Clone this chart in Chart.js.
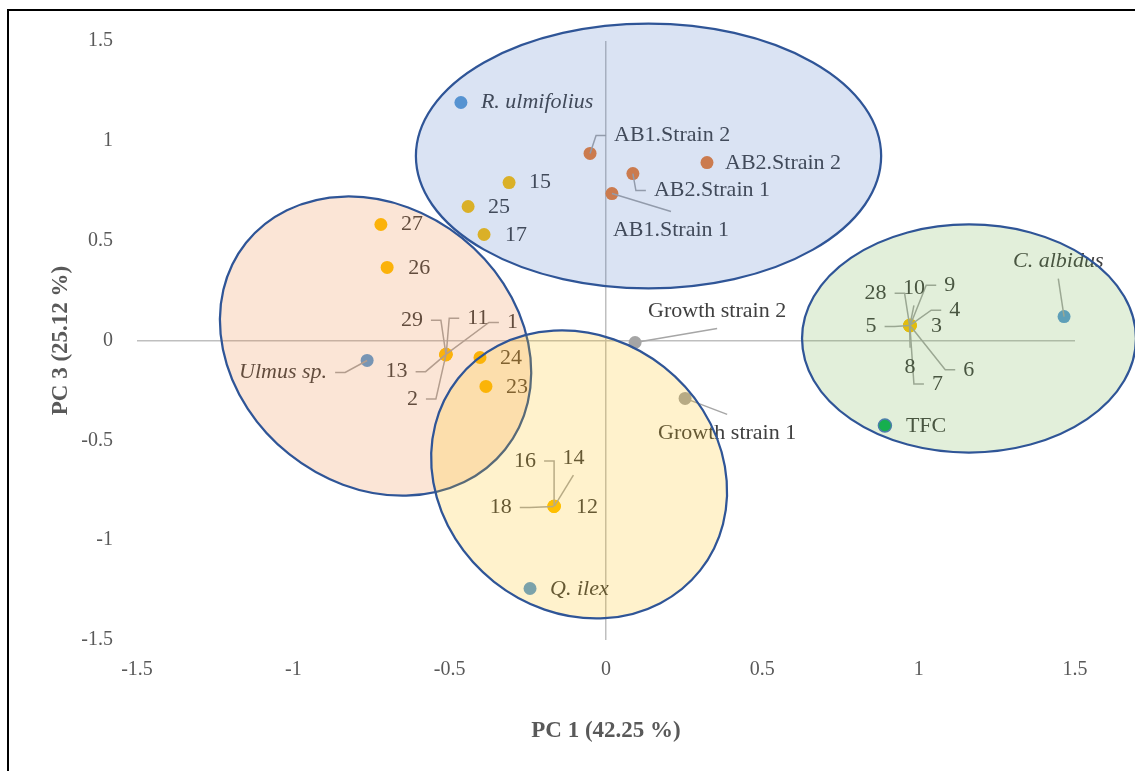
<!DOCTYPE html>
<html>
<head>
<meta charset="utf-8">
<script src="https://cdn.jsdelivr.net/npm/chart.js@4"></script>
<style>
  html, body { margin: 0; padding: 0; background: #fff; overflow: hidden; }
  #wrap { position: relative; width: 1135px; height: 771px; }
  #frame { position: absolute; left: 7px; top: 9px; width: 1300px; height: 900px; border: 2px solid #000; }
  canvas { position: absolute; left: 0; top: 0; }
</style>
</head>
<body>
<div id="wrap">
  <div id="frame"></div>
  <canvas id="myChart" width="1135" height="771"></canvas>
</div>
<script>
// data
var samples = ['R. ulmifolius', 'Ulmus sp.', 'Q. ilex', 'C. albidus',
  'AB1.Strain 1', 'AB1.Strain 2', 'AB2.Strain 1', 'AB2.Strain 2',
  'Growth strain 1', 'Growth strain 2', 'TFC',
  '1', '2', '3', '4', '5', '6', '7', '8', '9', '10', '11', '12', '13', '14',
  '15', '16', '17', '18', '23', '24', '25', '26', '27', '28', '29'];
var pc1 = [-0.464, -0.764, -0.243, 1.465,
  0.019, -0.051, 0.086, 0.323,
  0.253, 0.093, 0.892,
  -0.512, -0.512, 0.972, 0.973, 0.971, 0.973, 0.972, 0.971, 0.973, 0.972, -0.511, -0.166, -0.513, -0.165,
  -0.310, -0.166, -0.390, -0.167, -0.384, -0.403, -0.441, -0.700, -0.720, 0.971, -0.512];
var pc3 = [1.192, -0.100, -1.242, 0.120,
  0.736, 0.937, 0.836, 0.891,
  -0.290, -0.010, -0.426,
  -0.070, -0.072, 0.075, 0.077, 0.075, 0.074, 0.073, 0.074, 0.076, 0.076, -0.069, -0.831, -0.071, -0.830,
  0.791, -0.829, 0.531, -0.831, -0.230, -0.085, 0.671, 0.366, 0.581, 0.076, -0.069];
var groups = ['plant', 'plant', 'plant', 'plant',
  'strain', 'strain', 'strain', 'strain',
  'growth', 'growth', 'control',
  'extract', 'extract', 'extract', 'extract', 'extract', 'extract', 'extract', 'extract', 'extract', 'extract',
  'extract', 'extract', 'extract', 'extract', 'extract', 'extract', 'extract', 'extract', 'extract', 'extract',
  'extract', 'extract', 'extract', 'extract', 'extract'];
var tickValues = [-1.5, -1, -0.5, 0, 0.5, 1, 1.5];

var groupColors = { plant: '#5B9BD5', strain: '#ED7D31', growth: '#A5A5A5', control: '#00B050', extract: '#FFC000' };

// label placement: [dx, dy, align, leader] in pixels from the point
var labelLayout = {
  'R. ulmifolius': [20, 0, 'left', null],
  'AB1.Strain 2': [24, -18, 'left', 'side'],
  'AB2.Strain 2': [18, 1, 'left', null],
  'AB2.Strain 1': [21, 17, 'left', 'side'],
  'AB1.Strain 1': [1, 37, 'left', 'top'],
  '15': [20, 0, 'left', null],
  '25': [20, 1, 'left', null],
  '17': [21, 1, 'left', null],
  '27': [20, 0, 'left', null],
  '26': [21, 1, 'left', null],
  'Ulmus sp.': [-40, 12, 'right', 'side'],
  '29': [-23, -34, 'right', 'side'],
  '11': [21, -36, 'left', 'side'],
  '1': [61, -32, 'left', 'side'],
  '13': [-38, 17, 'right', 'side'],
  '2': [-28, 44, 'right', 'side'],
  '24': [20, 1, 'left', null],
  '23': [20, 1, 'left', null],
  'Growth strain 2': [13, -31, 'left', 'bottom'],
  'Growth strain 1': [-27, 35, 'left', 'top'],
  '16': [-18, -45, 'right', 'side'],
  '14': [8, -48, 'left', 'bottom'],
  '18': [-42, 1, 'right', 'side'],
  '12': [22, 1, 'left', null],
  'Q. ilex': [20, 1, 'left', null],
  '28': [-23, -32, 'right', 'side'],
  '10': [-7, -37, 'left', 'bottom'],
  '9': [34, -40, 'left', 'side'],
  '4': [39, -15, 'left', 'side'],
  '5': [-33, 1, 'right', 'side'],
  '3': [21, 1, 'left', null],
  '6': [53, 44, 'left', 'side'],
  '8': [-5, 41, 'left', 'top'],
  '7': [22, 58, 'left', 'side'],
  'C. albidus': [-51, -55, 'left', 'bottom'],
  'TFC': [21, 1, 'left', null]
};

// group ellipses (centre in data units, radii in axis units, rotation in degrees)
var groupEllipses = [
  { cx: -0.737, cy: -0.028, rx: 0.530, ry: 0.693, rot: 38.6, fill: 'rgba(237,125,49,0.2)' },
  { cx: -0.086, cy: -0.671, rx: 0.494, ry: 0.686, rot: 38.4, fill: 'rgba(255,192,0,0.2)' },
  { cx: 0.136, cy: 0.924, rx: 0.744, ry: 0.663, rot: 0, fill: 'rgba(68,114,196,0.2)' },
  { cx: 1.161, cy: 0.010, rx: 0.534, ry: 0.571, rot: 0, fill: 'rgba(112,173,71,0.2)' }
];

var labelPlugin = {
  id: 'pointLabels',
  afterDatasetsDraw: function(chart) {
    var c = chart.ctx, xs = chart.scales.x, ys = chart.scales.y;
    c.save();
    samples.forEach(function(name, i) {
      var lay = labelLayout[name];
      if (!lay) return;
      var px = xs.getPixelForValue(pc1[i]), py = ys.getPixelForValue(pc3[i]);
      var lx = px + lay[0], ly = py + lay[1], align = lay[2], lead = lay[3];
      c.font = (groups[i] === 'plant' ? 'italic ' : '') + '22px "Liberation Serif"';
      var w = c.measureText(name).width;
      var left = align === 'left' ? lx : lx - w;
      if (lead) {
        c.strokeStyle = '#A6A6A6';
        c.lineWidth = 1.5;
        c.beginPath();
        if (lead === 'side') {
          var dir = align === 'left' ? -1 : 1;
          c.moveTo(lx + dir * 8, ly);
          c.lineTo(lx + dir * 18, ly);
          c.lineTo(px, py);
        } else if (lead === 'top') {
          c.moveTo(left + w / 2, ly - 19);
          c.lineTo(px, py);
        } else {
          c.moveTo(left + w / 2, ly + 17);
          c.lineTo(px, py);
        }
        c.stroke();
      }
      c.fillStyle = '#404040';
      c.textAlign = align;
      c.textBaseline = 'middle';
      c.fillText(name, lx, ly);
    });
    c.restore();
  }
};

var ellipsePlugin = {
  id: 'groupEllipses',
  afterDraw: function(chart) {
    var c = chart.ctx, xs = chart.scales.x, ys = chart.scales.y;
    var ux = xs.getPixelForValue(1) - xs.getPixelForValue(0);
    var uy = ys.getPixelForValue(0) - ys.getPixelForValue(1);
    c.save();
    groupEllipses.forEach(function(e) {
      c.beginPath();
      c.ellipse(xs.getPixelForValue(e.cx), ys.getPixelForValue(e.cy), e.rx * ux, e.ry * uy,
        e.rot * Math.PI / 180, 0, Math.PI * 2);
      c.fillStyle = e.fill;
      c.fill();
      c.strokeStyle = '#2F5597';
      c.lineWidth = 2.25;
      c.stroke();
    });
    c.restore();
  }
};

var tickFont = { family: 'Liberation Serif', size: 20 };
var titleFont = { family: 'Liberation Serif', size: 23, weight: 'bold' };
var zeroLine = function(ctx) { return ctx.tick && ctx.tick.value === 0 ? '#BFBFBF' : 'rgba(0,0,0,0)'; };
var tickText = function(v) { return String(v); };

const ctx = document.getElementById('myChart');
new Chart(ctx, {
  type: 'scatter',
  data: {
    datasets: [{
      data: samples.map(function(s, i) { return { x: pc1[i], y: pc3[i] }; }),
      backgroundColor: groups.map(function(g) { return groupColors[g]; }),
      borderColor: groups.map(function(g) { return g === 'control' ? '#4472C4' : groupColors[g]; }),
      borderWidth: groups.map(function(g) { return g === 'control' ? 1.5 : 0; }),
      pointRadius: 6.5,
      pointHoverRadius: 6.5
    }]
  },
  options: {
    responsive: false,
    animation: false,
    devicePixelRatio: 1,
    layout: { padding: { left: 43, right: 60, top: 41, bottom: 26 } },
    plugins: { legend: { display: false }, tooltip: { enabled: false } },
    scales: {
      x: {
        type: 'linear', min: tickValues[0], max: tickValues[tickValues.length - 1],
        afterBuildTicks: function(s) { s.ticks = tickValues.map(function(v) { return { value: v }; }); },
        ticks: { padding: 18, font: tickFont, color: '#595959', maxRotation: 0, callback: tickText },
        grid: { drawTicks: false, color: zeroLine, lineWidth: 1.5 },
        border: { display: false },
        title: { display: true, text: 'PC 1 (42.25 %)', font: titleFont, color: '#595959', padding: { top: 4, bottom: 0 } },
        afterFit: function(s) { s.height = 105; }
      },
      y: {
        type: 'linear', min: tickValues[0], max: tickValues[tickValues.length - 1],
        afterBuildTicks: function(s) { s.ticks = tickValues.map(function(v) { return { value: v }; }); },
        ticks: { padding: 24, font: tickFont, color: '#595959', callback: tickText },
        grid: { drawTicks: false, color: zeroLine, lineWidth: 1.5 },
        border: { display: false },
        title: { display: true, text: 'PC 3 (25.12 %)', font: titleFont, color: '#595959', padding: { top: 4, bottom: 0 } },
        afterFit: function(s) { s.width = 94; }
      }
    }
  },
  plugins: [labelPlugin, ellipsePlugin]
});
</script>
</body>
</html>
